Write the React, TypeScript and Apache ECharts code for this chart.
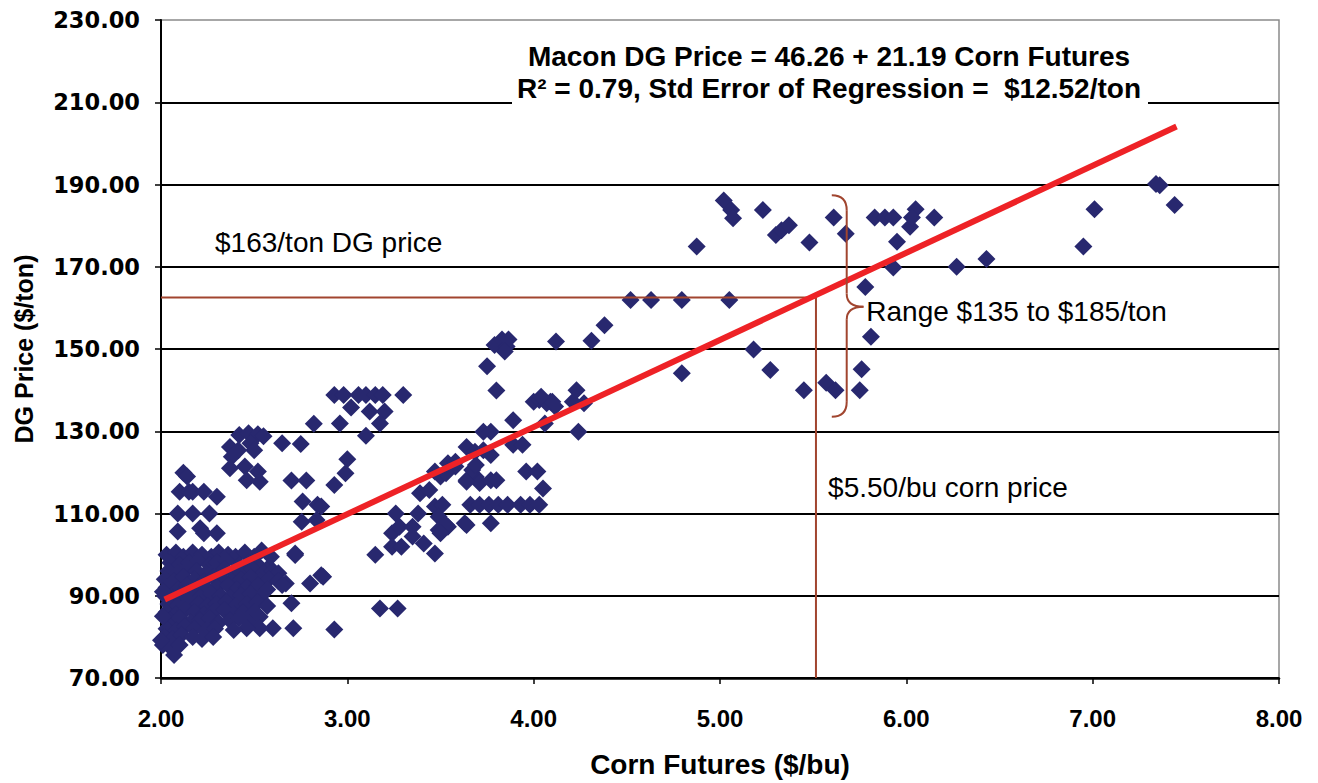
import { useEffect, useRef } from 'react';
import * as echarts from 'echarts';

// ---- axes ----
const xMin = 2;
const xMax = 8;
const xStep = 1;
const yMin = 70;
const yMax = 230;
const yStep = 20;

// ---- scatter: [corn futures $/bu, DG price $/ton] ----
const clusterLow: [number, number][] = [
  [2.03, 100], [2.08, 100.5], [2.12, 99.5], [2.17, 100.5], [2.22, 100], [2.27, 99.5], [2.31, 100.5], [2.36, 100], [2.4, 99.5], [2.45, 100.5], [2.5, 99.5], [2.54, 101],
  [2.05, 98], [2.1, 97.5], [2.15, 98], [2.2, 98.5], [2.26, 97.5], [2.3, 98], [2.35, 98.5], [2.42, 97.5], [2.47, 98], [2.52, 97.5], [2.58, 97],
  [2.04, 96], [2.09, 95.5], [2.14, 96.5], [2.19, 96], [2.24, 95.5], [2.29, 96], [2.34, 96.5], [2.39, 95.5], [2.44, 96], [2.49, 96.5], [2.55, 95.5], [2.6, 96], [2.63, 95.5],
  [2.02, 94], [2.07, 93.5], [2.12, 94.5], [2.18, 94], [2.23, 93.5], [2.28, 94.5], [2.33, 94], [2.38, 93.5], [2.43, 94], [2.48, 94.5], [2.53, 93.5], [2.58, 94], [2.63, 93.5], [2.67, 93],
  [2.03, 92], [2.09, 91.5], [2.14, 92.5], [2.2, 92], [2.25, 91.5], [2.3, 92], [2.36, 92.5], [2.41, 91.5], [2.46, 92], [2.52, 92.5], [2.57, 91.5],
  [2.02, 90], [2.06, 89.5], [2.11, 90.5], [2.16, 90], [2.21, 89.5], [2.27, 90.5], [2.32, 90], [2.37, 89.5], [2.43, 90], [2.48, 90.5], [2.53, 89.5],
  [2.04, 88], [2.09, 87.5], [2.15, 88.5], [2.2, 88], [2.25, 87.5], [2.3, 88], [2.35, 88.5], [2.4, 87.5], [2.46, 88], [2.52, 88.5], [2.57, 87.5],
  [2.03, 86], [2.08, 85.5], [2.13, 86.5], [2.18, 86], [2.23, 85.5], [2.28, 86], [2.34, 86.5], [2.39, 85.5], [2.44, 86], [2.5, 86], [2.53, 84.9],
  [2.05, 84], [2.1, 84.5], [2.16, 83.5], [2.21, 84], [2.26, 84.5], [2.31, 83.5], [2.37, 84], [2.42, 84.5], [2.47, 83.5],
  [2.03, 82], [2.08, 81.5], [2.13, 82.5], [2.18, 82], [2.24, 81.5], [2.29, 82],
  [2.02, 80], [2.06, 79.5], [2.11, 80.5], [2.17, 80], [2.22, 79.5], [2.28, 80],
  [2.01, 78], [2.05, 77.5], [2.1, 78], [2.0, 79.2], [2.01, 91], [2.01, 85], [2.07, 75.6],
  [2.59, 99.5], [2.72, 99.9], [2.65, 92.6], [2.8, 93.0], [2.86, 95.0], [2.7, 88.2],
  [2.71, 82.1], [2.6, 82.1], [2.53, 82.1], [2.46, 82.1], [2.39, 81.7], [2.87, 94.6], [2.93, 81.8],
];

const clusterMid: [number, number][] = [
  [2.82, 131.8], [2.42, 129.1], [2.47, 129.5], [2.52, 129.3], [2.55, 128.8], [2.48, 127.1],
  [2.37, 126.2], [2.415, 125.4], [2.5, 125.4], [2.38, 123.8], [2.37, 121.0], [2.45, 121.4],
  [2.52, 120.2], [2.46, 118.1], [2.53, 117.7], [2.65, 127.1], [2.75, 126.9], [2.12, 119.9], [2.14, 119.0],
  [2.1, 115.3], [2.15, 115.3], [2.17, 115.3], [2.23, 115.3], [2.3, 114.1], [2.7, 118.0],
  [2.78, 118.0], [2.76, 112.9], [2.84, 112.1], [2.755, 108.0], [2.835, 108.4], [2.09, 110.0],
  [2.17, 110.0], [2.26, 110.0], [2.09, 105.6], [2.21, 106.4], [2.23, 105.2], [2.3, 105.2], [2.72, 100.3],
  [2.93, 138.8], [2.98, 138.8], [3.06, 138.8], [3.1, 138.8], [3.15, 138.8], [3.19, 138.8], [3.3, 138.8],
  [3.02, 135.8], [3.12, 134.8], [3.2, 134.8], [2.96, 131.9], [3.175, 131.9], [3.1, 128.9], [3.0, 123.2],
  [2.99, 119.8], [2.93, 116.9], [2.86, 111.7], [3.175, 86.9], [3.27, 86.9], [3.15, 100.0], [3.26, 110.0],
  [3.24, 105.2], [3.28, 106.8], [3.35, 106.8], [3.38, 110.0], [3.35, 104.4], [3.24, 101.9], [3.29, 101.9],
  [3.41, 102.7], [3.47, 100.3], [3.39, 114.9], [3.44, 115.7], [3.47, 111.7], [3.51, 112.1], [3.49, 109.2],
  [3.49, 106.0], [3.54, 106.8], [3.53, 107.2], [3.5, 105.2], [3.64, 107.2], [3.77, 107.6], [3.63, 107.6],
  [3.47, 120.2], [3.5, 119.0], [3.54, 122.2], [3.58, 121.4], [3.53, 119.8], [3.58, 122.6],
  [3.64, 126.2], [3.685, 125.0], [3.73, 125.4], [3.77, 124.2], [3.64, 118.1], [3.69, 118.9],
  [3.71, 117.4], [3.77, 118.1], [3.8, 118.1], [3.67, 120.6], [3.69, 121.8], [3.64, 117.7],
  [3.73, 129.9], [3.77, 129.9], [3.89, 132.7], [3.89, 126.7], [3.94, 126.7],
  [4.0, 137.2], [4.03, 137.6], [4.09, 137.2], [4.115, 136.0], [3.96, 120.2], [4.02, 120.2], [4.05, 116.1],
  [3.66, 112.1], [3.71, 112.1], [3.76, 112.1], [3.81, 112.1], [3.86, 112.1], [3.93, 112.1], [3.98, 112.1], [4.03, 112.1],
];

const clusterHigh: [number, number][] = [
  [4.12, 151.8], [4.31, 152.0], [4.23, 140.0], [4.27, 136.8], [4.21, 137.2], [4.24, 129.9],
  [4.07, 136.8], [4.1, 137.2], [4.04, 138.4], [4.06, 131.9],
  [3.79, 151.0], [3.83, 152.3], [3.855, 150.6], [3.865, 152.3], [3.845, 149.4], [3.75, 145.8], [3.8, 139.9],
  [4.38, 155.8], [4.52, 161.9], [4.63, 161.9], [4.795, 161.9], [5.05, 161.9], [4.795, 144.1],
  [5.02, 186.1], [5.06, 183.8], [5.07, 181.8], [4.875, 174.9], [5.23, 183.8], [5.3, 177.7],
  [5.33, 178.9], [5.37, 180.1], [5.48, 175.9], [5.61, 182.0], [5.675, 178.0],
  [5.18, 149.9], [5.27, 144.9], [5.45, 140.0], [5.57, 141.8], [5.62, 140.0], [5.76, 145.1], [5.75, 140.0],
  [5.78, 165.1], [5.81, 153.0],
  [5.83, 182.0], [5.885, 182.0], [5.93, 182.0], [5.95, 176.1], [5.93, 169.8],
  [6.05, 184.0], [6.02, 179.7], [6.03, 182.0], [6.15, 182.0], [6.27, 170.0], [6.43, 171.9],
  [6.95, 174.9], [7.01, 184.0], [7.34, 190.1], [7.36, 189.8], [7.44, 185.0],
];

// ---- fitted line and guides ----
const trendLine: [number, number][] = [[2.02, 89.1], [7.45, 204.1]];
const guideLine: [number, number][] = [[2.0, 162.5], [5.515, 162.5], [5.515, 70]];
const braceX = [5.6, 5.68, 5.77]; // hook end, spine, tip
const braceY = [187.4, 160.3, 133.5]; // top, tip, bottom

const titleLines = ['Macon DG Price = 46.26 + 21.19 Corn Futures', 'R\u00B2 = 0.79, Std Error of Regression =  $12.52/ton'];
const noteTexts = ['$163/ton DG price', 'Range $135 to $185/ton', '$5.50/bu corn price'];
const noteAnchors: [number, number][] = [[2.29, 175.8], [5.785, 159.2], [5.58, 116.4]];

const BROWN = '#a1452f';
const NAVY = '#28286f';

export default function App() {
  const ref = useRef<HTMLDivElement>(null);

  useEffect(() => {
    document.body.style.margin = '0';
    const el = ref.current;
    if (!el) return;
    const chart = echarts.init(el, null, { renderer: 'svg' });
    const points = [...clusterLow, ...clusterMid, ...clusterHigh];

    chart.setOption({
      animation: false,
      backgroundColor: '#ffffff',
      grid: {
        left: 161,
        top: 20,
        right: 39,
        bottom: 105,
        show: true,
        borderColor: '#8a8a8a',
        borderWidth: 1.5,
        backgroundColor: 'transparent',
      },
      xAxis: {
        type: 'value',
        min: xMin,
        max: xMax,
        interval: xStep,
        name: 'Corn Futures ($/bu)',
        nameLocation: 'middle',
        nameGap: 72,
        nameTextStyle: { fontFamily: 'Liberation Sans', fontWeight: 'bold', fontSize: 28, color: '#000' },
        axisLine: { show: true, onZero: false, lineStyle: { color: '#000', width: 2.5 } },
        axisTick: { show: true, length: 6, lineStyle: { color: '#000', width: 1.5 } },
        axisLabel: {
          margin: 28,
          fontFamily: 'Liberation Sans',
          fontWeight: 'bold',
          fontSize: 24,
          color: '#000',
          formatter: (v: number) => v.toFixed(2),
        },
        splitLine: { show: false },
      },
      yAxis: {
        type: 'value',
        min: yMin,
        max: yMax,
        interval: yStep,
        name: 'DG Price ($/ton)',
        nameLocation: 'middle',
        nameGap: 125,
        nameTextStyle: { fontFamily: 'Liberation Sans', fontWeight: 'bold', fontSize: 25, color: '#000' },
        axisLine: { show: true, onZero: false, lineStyle: { color: '#000', width: 2 } },
        axisTick: { show: true, length: 6, lineStyle: { color: '#000', width: 1.5 } },
        axisLabel: {
          margin: 21,
          fontFamily: 'DejaVu Sans',
          fontWeight: 'bold',
          fontSize: 22.5,
          color: '#000',
          formatter: (v: number) => v.toFixed(2),
        },
        splitLine: { show: true, showMaxLine: false, lineStyle: { color: '#000', width: 2 } },
      },
      series: [
        {
          type: 'scatter',
          data: points,
          symbol: 'diamond',
          symbolSize: 18,
          itemStyle: { color: NAVY, opacity: 1 },
          z: 2,
        },
        {
          type: 'line',
          data: guideLine,
          symbol: 'none',
          lineStyle: { color: BROWN, width: 2 },
          z: 3,
        },
        {
          type: 'line',
          data: trendLine,
          symbol: 'none',
          lineStyle: { color: '#ee2226', width: 6 },
          z: 4,
        },
      ],
    });

    const px = (p: [number, number]) => chart.convertToPixel({ gridIndex: 0 }, p) as number[];
    const [xl] = px([braceX[0], braceY[0]]);
    const [xs] = px([braceX[1], braceY[0]]);
    const [xt] = px([braceX[2], braceY[0]]);
    const yt = px([braceX[0], braceY[0]])[1];
    const ym = px([braceX[0], braceY[1]])[1];
    const yb = px([braceX[0], braceY[2]])[1];
    const r = 15;
    const m = 13;
    const braceStyle = { stroke: BROWN, lineWidth: 2, fill: 'none' };
    const brace = [
      { type: 'bezierCurve', z: 10, shape: { x1: xl, y1: yt, x2: xs, y2: yt + r, cpx1: xs, cpy1: yt }, style: braceStyle },
      { type: 'line', z: 10, shape: { x1: xs, y1: yt + r, x2: xs, y2: ym - m }, style: braceStyle },
      { type: 'bezierCurve', z: 10, shape: { x1: xs, y1: ym - m, x2: xt, y2: ym, cpx1: xs, cpy1: ym }, style: braceStyle },
      { type: 'bezierCurve', z: 10, shape: { x1: xt, y1: ym, x2: xs, y2: ym + m, cpx1: xs, cpy1: ym }, style: braceStyle },
      { type: 'line', z: 10, shape: { x1: xs, y1: ym + m, x2: xs, y2: yb - r }, style: braceStyle },
      { type: 'bezierCurve', z: 10, shape: { x1: xs, y1: yb - r, x2: xl, y2: yb, cpx1: xs, cpy1: yb }, style: braceStyle },
    ];

    const notes = noteTexts.map((t, i) => {
      const [nx, ny] = px(noteAnchors[i]);
      return {
        type: 'text',
        z: 10,
        x: nx,
        y: ny,
        style: { text: t, fontFamily: 'Liberation Sans', fontSize: 28, fill: '#000', textAlign: 'left', textVerticalAlign: 'middle' },
      };
    });

    const title = [
      { type: 'rect', z: 8, shape: { x: 512, y: 36, width: 636, height: 70 }, style: { fill: '#ffffff' } },
      ...titleLines.map((t, i) => ({
        type: 'text',
        z: 10,
        x: 829,
        y: 56 + i * 32,
        style: { text: t, fontFamily: 'Liberation Sans', fontWeight: 'bold', fontSize: 28, fill: '#000', textAlign: 'center', textVerticalAlign: 'middle' },
      })),
    ];

    chart.setOption({ graphic: [...title, ...brace, ...notes] });

    return () => chart.dispose();
  }, []);

  return <div ref={ref} style={{ width: 1318, height: 783 }} />;
}
